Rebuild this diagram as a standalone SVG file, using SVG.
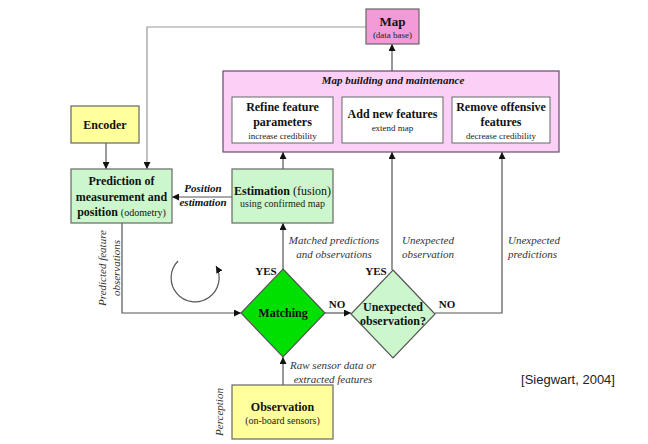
<svg xmlns="http://www.w3.org/2000/svg" width="648" height="444" viewBox="0 0 648 444">
<defs>
<marker id="ah" viewBox="0 0 10 10" refX="10" refY="5" markerWidth="7" markerHeight="7" markerUnits="userSpaceOnUse" orient="auto">
<path d="M0,0 L10,5 L0,10 z" fill="#111"/>
</marker>
<style>
.b{font-family:"Liberation Serif",serif;font-weight:bold;font-size:12px;fill:#111;text-anchor:middle}
.r{font-family:"Liberation Serif",serif;font-size:9px;fill:#222;text-anchor:middle}
.i{font-family:"Liberation Serif",serif;font-style:italic;font-size:11px;fill:#333}
.bi{font-family:"Liberation Serif",serif;font-style:italic;font-weight:bold;font-size:11px;fill:#111}
.yn{font-family:"Liberation Serif",serif;font-weight:bold;font-size:11px;fill:#111;text-anchor:middle}
.ln{fill:none;stroke:#555;stroke-width:1.2}
.box{stroke:#666;stroke-width:1.2}
</style>
</defs>
<rect width="648" height="444" fill="#fff"/>

<g id="connectors">
<path class="ln" d="M366,27 H147 V169" marker-end="url(#ah)" style="stroke:#999"/>
<path class="ln" d="M392,71 V44" marker-end="url(#ah)"/>
<path class="ln" d="M106,143 V169" marker-end="url(#ah)"/>
<path class="ln" d="M232,197 H172" marker-end="url(#ah)"/>
<path class="ln" d="M283,169 V152" marker-end="url(#ah)"/>
<path class="ln" d="M283,269 V223" marker-end="url(#ah)"/>
<path class="ln" d="M392,270 V152" marker-end="url(#ah)"/>
<path class="ln" d="M435,313 H502 V152" marker-end="url(#ah)"/>
<path class="ln" d="M325,313 H351" marker-end="url(#ah)"/>
<path class="ln" d="M122,223 V313 H241" marker-end="url(#ah)"/>
<path class="ln" d="M283,385 V357" marker-end="url(#ah)"/>
<path class="ln" d="M178,261 A24,24 0 1 0 216,266" marker-end="url(#ah)"/>
</g>

<g id="map">
<rect x="366" y="9" width="53" height="35" fill="#f39ad8" class="box"/>
<text x="392.5" y="26" class="b" style="font-size:13px">Map</text>
<text x="392.5" y="38" class="r">(data base)</text>
</g>

<g id="map-building">
<rect x="223" y="71" width="336" height="81" fill="#fcd0f6" stroke="#6a4a6a" stroke-width="1.2"/>
<text x="393" y="84" class="bi" text-anchor="middle">Map building and maintenance</text>
</g>
<g id="refine">
<rect x="232" y="97" width="101" height="46" fill="#fff" stroke="#666" stroke-width="1"/>
<text x="282.5" y="111" class="b">Refine feature</text>
<text x="282.5" y="126" class="b">parameters</text>
<text x="282.5" y="139" class="r">increase credibility</text>
</g>
<g id="add">
<rect x="342" y="97" width="101" height="46" fill="#fff" stroke="#666" stroke-width="1"/>
<text x="392.5" y="118" class="b">Add new features</text>
<text x="392.5" y="131" class="r">extend map</text>
</g>
<g id="remove">
<rect x="452" y="97" width="98" height="46" fill="#fff" stroke="#666" stroke-width="1"/>
<text x="501" y="111" class="b">Remove offensive</text>
<text x="501" y="126" class="b">features</text>
<text x="501" y="139" class="r">decrease credibility</text>
</g>

<g id="encoder">
<rect x="71" y="106" width="68" height="37" fill="#ffff9c" class="box"/>
<text x="105" y="129" class="b">Encoder</text>
</g>

<g id="prediction">
<rect x="71" y="169" width="101" height="54" fill="#ccf7cc" class="box"/>
<text x="121.5" y="185" class="b">Prediction of</text>
<text x="121.5" y="201" class="b">measurement and</text>
<text x="121.5" y="216" class="b">position <tspan style="font-weight:normal;font-size:10px">(odometry)</tspan></text>
</g>

<g id="estimation">
<rect x="232" y="169" width="101" height="54" fill="#ccf7cc" class="box"/>
<text x="282.5" y="195" class="b">Estimation <tspan style="font-weight:normal">(fusion)</tspan></text>
<text x="282.5" y="207" class="r" style="font-size:10px">using confirmed map</text>
</g>

<g id="matching">
<polygon points="283,269 325,313 283,357 241,313" fill="#00e000" stroke="#555" stroke-width="1.2"/>
<text x="283" y="317" class="b">Matching</text>
</g>

<g id="unexpected">
<polygon points="393,270 435,314 393,358 351,314" fill="#ccf7cc" stroke="#555" stroke-width="1.2"/>
<text x="393" y="311" class="b">Unexpected</text>
<text x="393" y="325" class="b">observation?</text>
</g>

<g id="observation">
<rect x="232" y="385" width="101" height="54" fill="#ffff9c" class="box"/>
<text x="282.5" y="411" class="b">Observation</text>
<text x="282.5" y="424" class="r" style="font-size:10px">(on-board sensors)</text>
</g>

<g id="labels">
<text x="203" y="192" class="bi" text-anchor="middle">Position</text>
<text x="203" y="206" class="bi" text-anchor="middle">estimation</text>
<text x="334" y="244" class="i" text-anchor="middle">Matched predictions</text>
<text x="334" y="258" class="i" text-anchor="middle">and observations</text>
<text x="402" y="244" class="i">Unexpected</text>
<text x="402" y="258" class="i">observation</text>
<text x="508" y="244" class="i">Unexpected</text>
<text x="508" y="258" class="i">predictions</text>
<text x="266" y="275" class="yn">YES</text>
<text x="376" y="275" class="yn">YES</text>
<text x="337" y="308" class="yn">NO</text>
<text x="447" y="308" class="yn">NO</text>
<text x="333" y="369" class="i" text-anchor="middle">Raw sensor data or</text>
<text x="333" y="383" class="i" text-anchor="middle">extracted features</text>
<text transform="translate(106,268) rotate(-90)" class="i" text-anchor="middle">Predicted feature</text>
<text transform="translate(120,268) rotate(-90)" class="i" text-anchor="middle">observations</text>
<text transform="translate(223,412) rotate(-90)" class="i" text-anchor="middle">Perception</text>
<text x="568" y="384" font-family="Liberation Sans, Arial, sans-serif" font-size="13" fill="#222" text-anchor="middle">[Siegwart, 2004]</text>
</g>
</svg>
